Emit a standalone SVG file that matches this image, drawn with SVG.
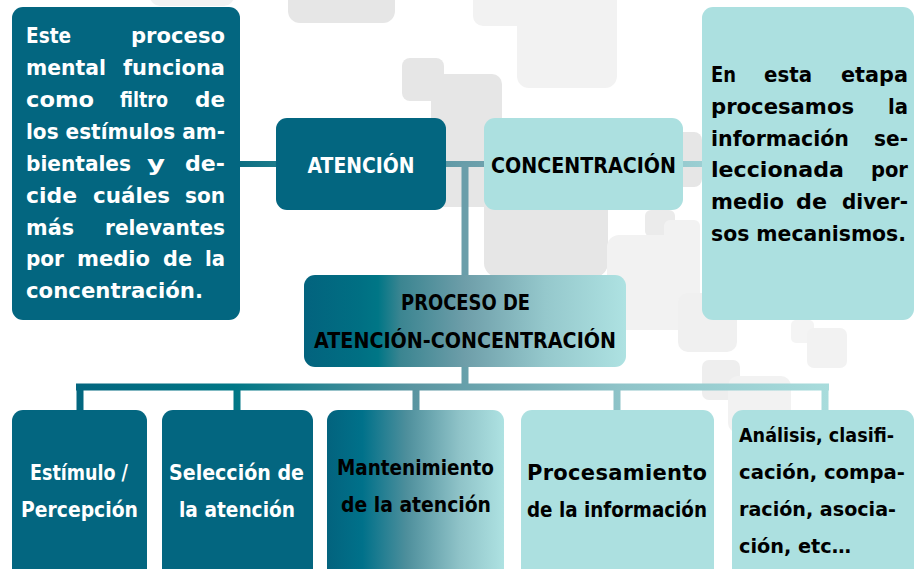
<svg xmlns="http://www.w3.org/2000/svg" width="914" height="569" viewBox="0 0 914 569">
<defs>
<style>
.t{font-family:"DejaVu Sans","Liberation Sans",sans-serif;font-weight:bold;font-size:22px}
.s{font-size:21px}
.r{font-size:20.5px}
.a{font-size:19.5px}
.w{fill:#ffffff}
.k{fill:#000000}
.c{text-anchor:middle}
.dark{fill:#036680}
.light{fill:#ace0e0}
.g1{fill:#e6e6e6}
.g2{fill:#f2f2f2}
</style>
<linearGradient id="gTop" gradientUnits="userSpaceOnUse" x1="240" y1="0" x2="702" y2="0">
<stop offset="0" stop-color="#0c6e82"/>
<stop offset="0.08" stop-color="#1d7c8b"/>
<stop offset="0.5" stop-color="#6a9eaa"/>
<stop offset="1" stop-color="#9ccfd3"/>
</linearGradient>
<linearGradient id="gBot" gradientUnits="userSpaceOnUse" x1="76" y1="0" x2="829" y2="0">
<stop offset="0" stop-color="#03667f"/>
<stop offset="0.21" stop-color="#007786"/>
<stop offset="0.45" stop-color="#5a95a1"/>
<stop offset="0.72" stop-color="#8ec3c8"/>
<stop offset="1" stop-color="#a8dcdc"/>
</linearGradient>
<linearGradient id="gProc" x1="0" y1="0" x2="1" y2="0">
<stop offset="0" stop-color="#03637e"/>
<stop offset="0.17" stop-color="#006f83"/>
<stop offset="0.23" stop-color="#007686"/>
<stop offset="0.3" stop-color="#3b8591"/>
<stop offset="0.5" stop-color="#6e9ea9"/>
<stop offset="0.75" stop-color="#95c8cc"/>
<stop offset="1" stop-color="#aee2e2"/>
</linearGradient>
<linearGradient id="gMant" x1="0" y1="0" x2="1" y2="0">
<stop offset="0" stop-color="#03637e"/>
<stop offset="0.2" stop-color="#00718a"/>
<stop offset="0.45" stop-color="#4e8f9c"/>
<stop offset="0.75" stop-color="#8fc3c8"/>
<stop offset="1" stop-color="#aee2e2"/>
</linearGradient>
</defs>
<rect width="914" height="569" fill="#ffffff"/>
<g id="background">
<rect class="g2" x="150" y="-20" width="84" height="26" rx="10"/>
<rect class="g1" x="288" y="-30" width="107" height="53" rx="12"/>
<rect class="g2" x="473" y="-20" width="63" height="46" rx="10"/>
<rect class="g2" x="517" y="-20" width="100" height="108" rx="12"/>
<rect class="g1" x="402" y="58" width="42" height="43" rx="8"/>
<rect class="g1" x="431" y="74" width="71" height="133" rx="10"/>
<rect class="g1" x="484" y="140" width="124" height="137" rx="14"/>
<rect class="g1" x="650" y="132" width="52" height="55" rx="8"/>
<rect fill="#ebebeb" x="645" y="210" width="30" height="27" rx="6"/>
<rect class="g2" x="664" y="220" width="36" height="45" rx="6"/>
<rect class="g2" x="607" y="235" width="93" height="95" rx="12"/>
<rect fill="#f0f0f0" x="678" y="293" width="59" height="59" rx="10"/>
<rect fill="#eeeeee" x="702" y="360" width="38" height="40" rx="7"/>
<rect class="g2" x="728" y="376" width="63" height="57" rx="10"/>
<rect fill="#f4f4f4" x="791" y="320" width="23" height="23" rx="5"/>
<rect class="g2" x="807" y="328" width="40" height="40" rx="7"/>
</g>
<g id="connectors" fill="none">
<path d="M240 164 H702" stroke="url(#gTop)" stroke-width="6"/>
<path d="M465 164 V275" stroke="#6a9eaa" stroke-width="7"/>
<path d="M465 367 V387 M76 387 H829 M80 387 V410 M237 387 V410 M416 387 V410 M617 387 V410 M825 387 V410" stroke="url(#gBot)" stroke-width="7"/>
</g>
<g id="desc-atencion">
<rect class="dark" x="12" y="7" width="228" height="313" rx="11"/>
<text class="t w" y="43"><tspan x="26" textLength="45" lengthAdjust="spacingAndGlyphs">Este</tspan></text>
<text class="t w" y="43"><tspan x="131" textLength="94" lengthAdjust="spacingAndGlyphs">proceso</tspan></text>
<text class="t w" y="75"><tspan x="26" textLength="80" lengthAdjust="spacingAndGlyphs">mental</tspan></text>
<text class="t w" y="75"><tspan x="123" textLength="102" lengthAdjust="spacingAndGlyphs">funciona</tspan></text>
<text class="t w" y="107"><tspan x="26" textLength="68" lengthAdjust="spacingAndGlyphs">como</tspan></text>
<text class="t w" y="107"><tspan x="120" textLength="48" lengthAdjust="spacingAndGlyphs">filtro</tspan></text>
<text class="t w" y="107"><tspan x="195" textLength="30" lengthAdjust="spacingAndGlyphs">de</tspan></text>
<text class="t w" y="139"><tspan x="26" textLength="199" lengthAdjust="spacingAndGlyphs">los estímulos am-</tspan></text>
<text class="t w" y="171"><tspan x="26" textLength="105" lengthAdjust="spacingAndGlyphs">bientales</tspan></text>
<text class="t w" y="171"><tspan x="147" textLength="18" lengthAdjust="spacingAndGlyphs">y</tspan></text>
<text class="t w" y="171"><tspan x="185" textLength="40" lengthAdjust="spacingAndGlyphs">de-</tspan></text>
<text class="t w" y="203"><tspan x="26" textLength="51" lengthAdjust="spacingAndGlyphs">cide</tspan></text>
<text class="t w" y="203"><tspan x="93" textLength="77" lengthAdjust="spacingAndGlyphs">cuáles</tspan></text>
<text class="t w" y="203"><tspan x="185" textLength="40" lengthAdjust="spacingAndGlyphs">son</tspan></text>
<text class="t w" y="235"><tspan x="26" textLength="48" lengthAdjust="spacingAndGlyphs">más</tspan></text>
<text class="t w" y="235"><tspan x="105" textLength="120" lengthAdjust="spacingAndGlyphs">relevantes</tspan></text>
<text class="t w" y="266"><tspan x="26" textLength="38" lengthAdjust="spacingAndGlyphs">por</tspan></text>
<text class="t w" y="266"><tspan x="77" textLength="73" lengthAdjust="spacingAndGlyphs">medio</tspan></text>
<text class="t w" y="266"><tspan x="163" textLength="29" lengthAdjust="spacingAndGlyphs">de</tspan></text>
<text class="t w" y="266"><tspan x="205" textLength="20" lengthAdjust="spacingAndGlyphs">la</tspan></text>
<text class="t w" y="298"><tspan x="26" textLength="177" lengthAdjust="spacingAndGlyphs">concentración.</tspan></text>
</g>
<g id="desc-concentracion">
<rect class="light" x="702" y="7" width="212" height="313" rx="11"/>
<text class="t r k" y="82"><tspan x="711" textLength="25" lengthAdjust="spacingAndGlyphs">En</tspan></text>
<text class="t r k" y="82"><tspan x="764" textLength="48" lengthAdjust="spacingAndGlyphs">esta</tspan></text>
<text class="t r k" y="82"><tspan x="841" textLength="67" lengthAdjust="spacingAndGlyphs">etapa</tspan></text>
<text class="t r k" y="114"><tspan x="711" textLength="143" lengthAdjust="spacingAndGlyphs">procesamos</tspan></text>
<text class="t r k" y="114"><tspan x="888" textLength="20" lengthAdjust="spacingAndGlyphs">la</tspan></text>
<text class="t r k" y="146"><tspan x="711" textLength="138" lengthAdjust="spacingAndGlyphs">información</tspan></text>
<text class="t r k" y="146"><tspan x="874" textLength="34" lengthAdjust="spacingAndGlyphs">se-</tspan></text>
<text class="t r k" y="177"><tspan x="711" textLength="133" lengthAdjust="spacingAndGlyphs">leccionada</tspan></text>
<text class="t r k" y="177"><tspan x="871" textLength="37" lengthAdjust="spacingAndGlyphs">por</tspan></text>
<text class="t r k" y="209"><tspan x="711" textLength="73" lengthAdjust="spacingAndGlyphs">medio</tspan></text>
<text class="t r k" y="209"><tspan x="796" textLength="31" lengthAdjust="spacingAndGlyphs">de</tspan></text>
<text class="t r k" y="209"><tspan x="842" textLength="66" lengthAdjust="spacingAndGlyphs">diver-</tspan></text>
<text class="t r k" y="241"><tspan x="711" textLength="195" lengthAdjust="spacingAndGlyphs">sos mecanismos.</tspan></text>
</g>
<g id="atencion">
<rect class="dark" x="276" y="118" width="170" height="92" rx="11"/>
<text class="t s w c" x="361" y="173" textLength="107" lengthAdjust="spacingAndGlyphs">ATENCIÓN</text>
</g>
<g id="concentracion">
<rect class="light" x="484" y="118" width="199" height="92" rx="11"/>
<text class="t s k c" x="583.5" y="173" textLength="185" lengthAdjust="spacingAndGlyphs">CONCENTRACIÓN</text>
</g>
<g id="proceso">
<rect fill="url(#gProc)" x="304" y="275" width="322" height="92" rx="11"/>
<text class="t s k c" x="465.5" y="310" textLength="129" lengthAdjust="spacingAndGlyphs">PROCESO DE</text>
<text class="t s k c" x="465" y="348" textLength="302" lengthAdjust="spacingAndGlyphs">ATENCIÓN-CONCENTRACIÓN</text>
</g>
<g id="estimulo">
<rect class="dark" x="12" y="410" width="135" height="175" rx="11"/>
<text class="t s w c" x="79" y="480" textLength="98" lengthAdjust="spacingAndGlyphs">Estímulo /</text>
<text class="t s w c" x="79.5" y="517" textLength="117" lengthAdjust="spacingAndGlyphs">Percepción</text>
</g>
<g id="seleccion">
<rect class="dark" x="162" y="410" width="151" height="175" rx="11"/>
<text class="t s w c" x="236.5" y="480" textLength="135" lengthAdjust="spacingAndGlyphs">Selección de</text>
<text class="t s w c" x="237" y="517" textLength="116" lengthAdjust="spacingAndGlyphs">la atención</text>
</g>
<g id="mantenimiento">
<rect fill="url(#gMant)" x="327" y="410" width="177" height="175" rx="11"/>
<text class="t s k c" x="415.5" y="475" textLength="157" lengthAdjust="spacingAndGlyphs">Mantenimiento</text>
<text class="t s k c" x="416" y="512" textLength="150" lengthAdjust="spacingAndGlyphs">de la atención</text>
</g>
<g id="procesamiento">
<rect class="light" x="521" y="410" width="193" height="175" rx="11"/>
<text class="t s k c" x="617" y="480" textLength="180" lengthAdjust="spacing">Procesamiento</text>
<text class="t s k c" x="617" y="517" textLength="180" lengthAdjust="spacingAndGlyphs">de la información</text>
</g>
<g id="analisis">
<rect class="light" x="732" y="410" width="182" height="175" rx="11"/>
<text class="t a k" x="739" y="442" textLength="155" lengthAdjust="spacingAndGlyphs">Análisis, clasifi-</text>
<text class="t a k" x="739" y="479" textLength="166" lengthAdjust="spacingAndGlyphs">cación, compa-</text>
<text class="t a k" x="739" y="516" textLength="157" lengthAdjust="spacingAndGlyphs">ración, asocia-</text>
<text class="t a k" x="739" y="553" textLength="112" lengthAdjust="spacingAndGlyphs">ción, etc…</text>
</g>
</svg>
